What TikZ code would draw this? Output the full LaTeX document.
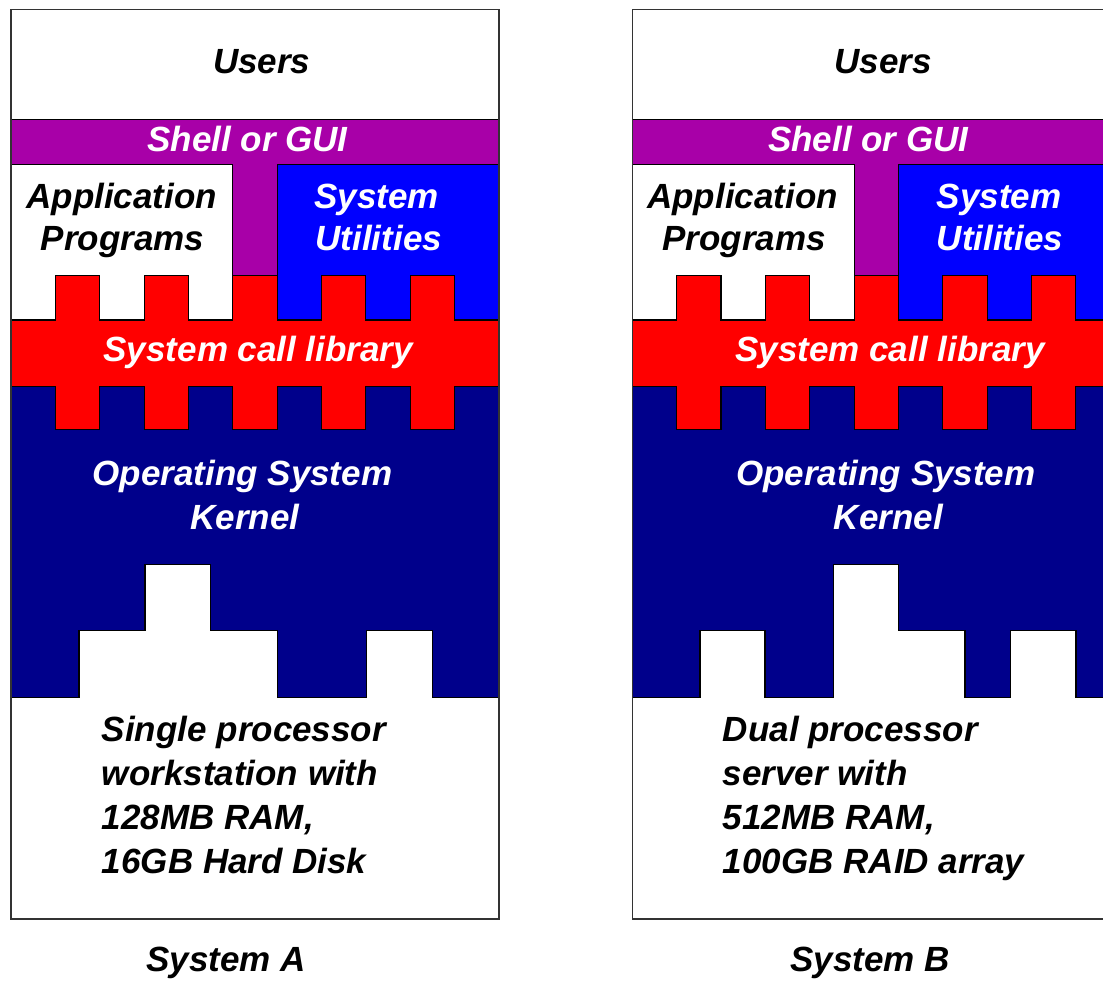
\documentclass[tikz,border=0pt]{standalone}
\usepackage{fontspec}
\setmainfont{Liberation Sans}
\definecolor{shellc}{RGB}{168,0,168}
\definecolor{utilc}{RGB}{0,0,255}
\definecolor{callc}{RGB}{255,0,0}
\definecolor{kernc}{RGB}{0,0,139}
\tikzset{
  layer/.style={draw=black, line width=1.1pt, line join=miter},
  frame/.style={draw=black!80, line width=1.6pt},
  lbl/.style={inner sep=0pt, anchor=base, font=\bfseries\itshape\fontsize{35}{44}\selectfont},
  lblw/.style={lbl, text=white},
  lbll/.style={lbl, anchor=base west},
}
\begin{document}
\begin{tikzpicture}[x=1pt,y=-1pt]
\useasboundingbox (0,0) rectangle (1103,980);
\clip (0,0) rectangle (1103,980);
\fill[white] (0,0) rectangle (1103,980);

% ---------- stack drawn for a given horizontal offset ----------
\foreach \ox in {0,621.3} {
  \begin{scope}[xshift=\ox pt]
    % column boundaries
    \pgfmathsetmacro{\cw}{488/11}
    % whole frame (white)
    \filldraw[fill=white, layer] (11,9.3) rectangle (499,918.8);
    % shell / GUI
    \filldraw[fill=shellc, layer] (11,119.3) -- (499,119.3) -- (499,164.3)
      -- ({11+6*\cw},164.3) -- ({11+6*\cw},275.3) -- ({11+5*\cw},275.3)
      -- ({11+5*\cw},164.3) -- (11,164.3) -- cycle;
    % system utilities
    \filldraw[fill=utilc, layer] ({11+6*\cw},164.3) rectangle (499,320);
    % application programs
    \filldraw[fill=white, layer] (11,164.3) rectangle ({11+5*\cw},320);
    % kernel
    \filldraw[fill=kernc, layer] (11,386.7) rectangle (499,697.6);
    % system call library with teeth
    \filldraw[fill=callc, layer] (11,320)
      \foreach \k in {1,3,5,7,9} {
        -- ({11+\k*\cw},320) -- ({11+\k*\cw},275.3)
        -- ({11+(\k+1)*\cw},275.3) -- ({11+(\k+1)*\cw},320)
      }
      -- (499,320) -- (499,386.7)
      \foreach \k in {9,7,5,3,1} {
        -- ({11+(\k+1)*\cw},386.7) -- ({11+(\k+1)*\cw},429.8)
        -- ({11+\k*\cw},429.8) -- ({11+\k*\cw},386.7)
      }
      -- (11,386.7) -- cycle;
  \end{scope}
}

% ---------- hardware, system A ----------
\filldraw[fill=white, layer] (11,697.6) -- (79,697.6) -- (79,630.7) -- (145,630.7)
  -- (145,564.8) -- (210.7,564.8) -- (210.7,630.7) -- (277.3,630.7)
  -- (277.3,697.6) -- (366.7,697.6) -- (366.7,630.7) -- (432.7,630.7)
  -- (432.7,697.6) -- (499,697.6) -- (499,918.8) -- (11,918.8) -- cycle;
% ---------- hardware, system B ----------
\filldraw[fill=white, layer] (632.3,697.6) -- (700,697.6) -- (700,630.7) -- (765,630.7)
  -- (765,697.6) -- (833.3,697.6) -- (833.3,564.8) -- (898.3,564.8)
  -- (898.3,630.7) -- (965,630.7) -- (965,697.6) -- (1010.7,697.6)
  -- (1010.7,630.7) -- (1076,630.7) -- (1076,697.6) -- (1120.3,697.6)
  -- (1120.3,918.8) -- (632.3,918.8) -- cycle;

% outer frames
\draw[frame] (11,9.3) rectangle (499,918.8);
\draw[frame] (632.3,9.3) rectangle (1120.3,918.8);

% ---------- labels, system A ----------
\node[lbl]  (usersA) at (261.7,73.3) {Users};
\node[lblw] (shellA) at (247.5,151.7) {Shell or GUI};
\node[lbl]  (appA1)  at (121.7,208.3) {Application};
\node[lbl]  (appA2)  at (122.5,250) {Programs};
\node[lblw] (utilA1) at (376.7,208.3) {System};
\node[lblw] (utilA2) at (378.8,250) {Utilities};
\node[lblw] (callA)  at (258.3,361.7) {System call library};
\node[lblw] (kernA1) at (242.5,485.2) {Operating System};
\node[lblw] (kernA2) at (245,529.3) {Kernel};
\node[lbll] (hwA1) at (101.7,741.7) {Single processor};
\node[lbll] (hwA2) at (101.7,785.7) {workstation with};
\node[lbll] (hwA3) at (101.7,829.7) {128MB RAM,};
\node[lbll] (hwA4) at (101.7,873.7) {16GB Hard Disk};
\node[lbl]  (sysA) at (226,971) {System A};

% ---------- labels, system B ----------
\node[lbl]  (usersB) at (883.3,73.3) {Users};
\node[lblw] (shellB) at (868.3,151.7) {Shell or GUI};
\node[lbl]  (appB1)  at (742.5,208.3) {Application};
\node[lbl]  (appB2)  at (744.2,250) {Programs};
\node[lblw] (utilB1) at (999.2,208.3) {System};
\node[lblw] (utilB2) at (1000,250) {Utilities};
\node[lblw] (callB)  at (890,361.7) {System call library};
\node[lblw] (kernB1) at (885.8,485.2) {Operating System};
\node[lblw] (kernB2) at (888.3,529.3) {Kernel};
\node[lbll] (hwB1) at (722.7,741.7) {Dual processor};
\node[lbll] (hwB2) at (722.7,785.7) {server with};
\node[lbll] (hwB3) at (722.7,829.7) {512MB RAM,};
\node[lbll] (hwB4) at (722.7,873.7) {100GB RAID array};
\node[lbl]  (sysB) at (870,971) {System B};
\end{tikzpicture}
\end{document}
